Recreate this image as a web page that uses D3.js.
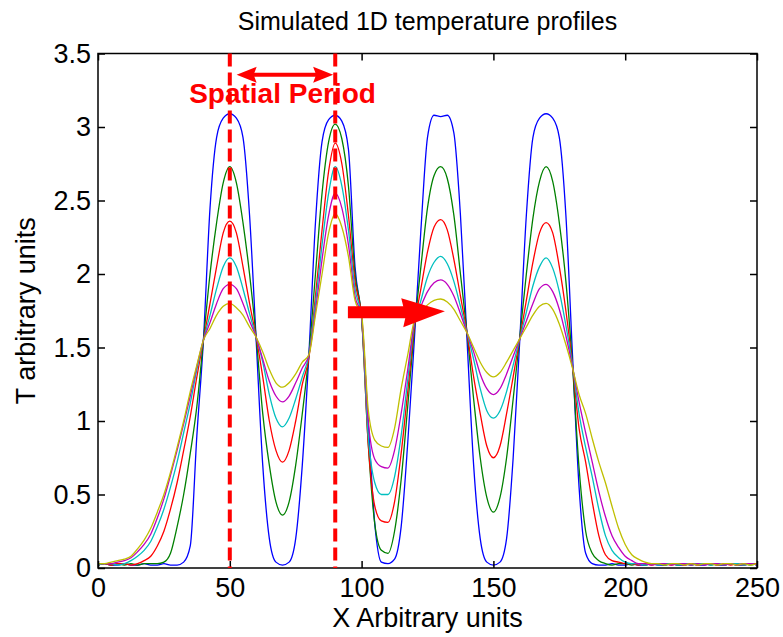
<!DOCTYPE html>
<html><head><meta charset="utf-8">
<script src="https://cdn.jsdelivr.net/npm/d3@7"></script>
<style>
html,body{margin:0;padding:0;background:#fff;}
text{font-family:"Liberation Sans",Arial,Helvetica,sans-serif;}
</style></head>
<body><svg id="chart" width="783" height="637"></svg>
<script>
// ---- data ----
const title = "Simulated 1D temperature profiles";
const xLabel = "X Arbitrary units";
const yLabel = "T arbitrary units";
const xTicks = [0, 50, 100, 150, 200, 250];
const yTicks = [0, 0.5, 1, 1.5, 2, 2.5, 3, 3.5];
const xTickLabels = ["0", "50", "100", "150", "200", "250"];
const yTickLabels = ["0", "0.5", "1", "1.5", "2", "2.5", "3", "3.5"];
const xs = [0,2.5,5,7.5,10,12.5,15,17.5,20,22.5,25,27.5,30,32.5,35,37.5,40,42.5,45,47.5,
 50,52.5,55,57.5,60,62.5,65,67.5,70,72.5,75,77.5,80,82.5,85,87.5,90,92.5,95,97.5,
 100,102.5,105,107.5,110,112.5,115,117.5,120,122.5,125,127.5,130,132.5,135,137.5,140,142.5,145,147.5,
 150,152.5,155,157.5,160,162.5,165,167.5,170,172.5,175,177.5,180,182.5,185,187.5,190,192.5,195,197.5,
 200,202.5,205,207.5,210,212.5,215,217.5,220,222.5,225,227.5,230,232.5,235,237.5,240,242.5,245,247.5,250];
const blue = [0.02,0.03,0.02,0.02,0.03,0.02,0.02,0.03,0.02,0.02,0.03,0.02,0.02,
 0.04,0.15,0.9,1.55,2.45,2.93,3.06,3.09,
 3.06,2.93,2.4,1.55,0.7,0.2,0.04,0.02,
 0.04,0.2,0.7,1.45,2.35,2.9,3.05,3.08,
 3.04,2.85,2.05,1.7,1.0,0.3,0.04,0.03,
 0.06,0.28,0.85,1.55,2.3,2.93,3.08,3.07,
 3.08,2.96,2.4,1.55,0.7,0.2,0.04,0.02,
 0.04,0.2,0.75,1.55,2.4,2.93,3.06,3.09,
 3.06,2.93,2.4,1.45,0.55,0.1,0.03,0.02,
 0.02,0.03,0.02,0.02,0.03,0.02,0.02,0.03,0.02,0.02,0.03,0.02,0.02,0.03,0.02,0.02,0.03,0.02,0.02,0.03,0.02,0.02,0.03,0.02];
const green = [0.02,0.03,0.02,0.03,0.02,0.03,0.02,0.03,0.03,0.03,
 0.04,0.1,0.28,0.5,0.78,1.1,1.55,2.0,2.35,2.62,
 2.73,2.62,2.35,2.0,1.57,1.05,0.7,0.45,0.36,0.45,
 0.7,1.05,1.45,2.0,2.55,2.9,3.02,2.92,2.6,2.0,
 1.7,0.85,0.3,0.12,0.1,0.25,0.6,1.1,1.62,2.05,
 2.45,2.67,2.73,2.65,2.4,2.0,1.6,1.15,0.75,0.48,
 0.38,0.48,0.75,1.15,1.57,2.0,2.38,2.63,2.73,2.63,
 2.35,1.95,1.38,0.68,0.25,0.1,0.05,0.03,
 0.02,0.03,0.03,0.02,0.03,0.02,0.03,0.03,0.02,0.03,0.02,0.03,0.02,0.03,0.03,0.02,0.03,0.02,0.03,0.02,0.03,0.02,0.03];
const red = [0.02,0.03,0.02,0.03,0.03,0.02,0.03,0.05,0.08,0.15,
 0.25,0.4,0.58,0.8,1.03,1.3,1.55,1.8,2.05,2.28,
 2.36,2.28,2.05,1.8,1.57,1.3,1.0,0.8,0.72,0.8,
 1.0,1.25,1.43,1.85,2.3,2.7,2.89,2.75,2.4,1.95,
 1.7,0.85,0.42,0.32,0.31,0.45,0.78,1.2,1.64,1.9,
 2.15,2.32,2.37,2.3,2.1,1.85,1.6,1.3,1.05,0.83,
 0.75,0.83,1.05,1.3,1.56,1.82,2.08,2.28,2.35,2.28,
 2.05,1.75,1.38,0.95,0.72,0.45,0.22,0.09,0.05,0.04,
 0.03,0.03,0.02,0.03,0.02,0.03,0.03,0.02,0.03,0.02,0.03,0.02,0.03,0.03,0.02,0.03,0.02,0.03,0.02,0.03,0.03];
const cyan = [0.02,0.03,0.03,0.02,0.03,0.05,0.08,0.12,0.18,0.28,
 0.4,0.55,0.72,0.92,1.12,1.35,1.55,1.72,1.9,2.05,
 2.11,2.05,1.9,1.73,1.57,1.4,1.18,1.02,0.96,1.02,
 1.15,1.3,1.45,1.8,2.2,2.55,2.73,2.6,2.3,1.9,
 1.7,0.9,0.58,0.5,0.5,0.62,0.9,1.28,1.66,1.82,
 1.98,2.08,2.12,2.07,1.95,1.78,1.6,1.42,1.22,1.07,
 1.02,1.07,1.2,1.38,1.56,1.74,1.92,2.05,2.11,2.04,
 1.88,1.65,1.38,1.05,0.82,0.62,0.4,0.22,0.12,0.07,
 0.04,0.03,0.03,0.02,0.03,0.02,0.03,0.03,0.02,0.03,0.02,0.03,0.03,0.02,0.03,0.02,0.03,0.03,0.02,0.03,0.02];
const magenta = [0.03,0.03,0.03,0.04,0.05,0.07,0.11,0.16,0.23,0.34,
 0.47,0.63,0.8,0.98,1.17,1.37,1.55,1.67,1.8,1.9,
 1.93,1.9,1.8,1.68,1.57,1.42,1.27,1.17,1.13,1.17,
 1.26,1.36,1.45,1.75,2.1,2.4,2.55,2.45,2.2,1.85,
 1.71,1.0,0.74,0.69,0.68,0.8,1.05,1.35,1.67,1.78,
 1.88,1.94,1.96,1.93,1.85,1.73,1.6,1.47,1.32,1.22,
 1.18,1.22,1.32,1.44,1.56,1.68,1.8,1.9,1.93,1.88,
 1.76,1.58,1.37,1.13,0.92,0.72,0.52,0.35,0.22,0.14,
 0.08,0.05,0.03,0.03,0.02,0.03,0.03,0.02,0.03,0.03,0.02,0.03,0.02,0.03,0.03,0.02,0.03,0.02,0.03,0.03,0.02];
const yellow = [0.03,0.03,0.04,0.05,0.06,0.08,0.13,0.19,0.27,0.38,
 0.5,0.65,0.82,1.0,1.2,1.38,1.55,1.63,1.72,1.78,
 1.8,1.77,1.72,1.64,1.57,1.47,1.35,1.26,1.23,1.26,
 1.32,1.4,1.45,1.72,2.0,2.28,2.41,2.32,2.12,1.82,
 1.72,1.08,0.87,0.83,0.82,0.95,1.22,1.45,1.68,1.74,
 1.79,1.82,1.83,1.81,1.76,1.68,1.6,1.5,1.4,1.33,
 1.3,1.33,1.4,1.48,1.56,1.64,1.72,1.78,1.8,1.76,
 1.66,1.52,1.36,1.18,1.05,0.88,0.72,0.58,0.42,0.27,
 0.16,0.09,0.06,0.04,0.03,0.03,0.02,0.03,0.03,0.02,0.03,0.02,0.03,0.03,0.02,0.03,0.03,0.02,0.03,0.02,0.03];
const seriesNames = ["blue","green","red","cyan","magenta","yellow"];
const seriesValues = [blue, green, red, cyan, magenta, yellow];
const seriesColors = ["#0000ff","#008000","#ff0000","#00bfbf","#bf00bf","#bfbf00"];
const periodLines = [50, 90];
const periodArrow = {x0: 52.6, x1: 89.2, y: 3.355};
const periodText = {label: "Spatial Period", x: 70, y: 3.16};
const trendArrow = {x0: 94.8, xHead: 115.8, x1: 131.6, y: 1.74};

// ---- layout ----
const svg = d3.select("#chart");
const x = d3.scaleLinear().domain([0, 250]).range([98, 757]);
const y = d3.scaleLinear().domain([0, 3.5]).range([568, 53.5]);
const fs = 27;

svg.append("defs").append("clipPath").attr("id","clip")
  .append("rect").attr("x",98).attr("y",53.5).attr("width",659).attr("height",514.5);

// curves
const line = d3.line().x((d,i)=>x(xs[i])).y(d=>y(d)).curve(d3.curveMonotoneX);
const g = svg.append("g").attr("clip-path","url(#clip)");
seriesValues.forEach((vals, k) => {
  g.append("path").datum(vals).attr("d", line)
    .attr("fill","none").attr("stroke", seriesColors[k]).attr("stroke-width",1.3)
    .attr("stroke-linejoin","round");
});

// axes
const tickLen = 7;
const ax = svg.append("g");
ax.append("g").attr("transform",`translate(0,${y(0)})`)
  .call(d3.axisBottom(x).tickValues(xTicks).tickFormat((d,i)=>xTickLabels[i]).tickSizeInner(-tickLen).tickSizeOuter(0).tickPadding(10));
ax.append("g").attr("transform",`translate(${x(0)},0)`)
  .call(d3.axisLeft(y).tickValues(yTicks).tickFormat((d,i)=>yTickLabels[i]).tickSizeInner(-tickLen).tickSizeOuter(0).tickPadding(7));
ax.append("g").attr("transform",`translate(0,${y(3.5)})`)
  .call(d3.axisTop(x).tickValues(xTicks).tickFormat("").tickSizeInner(-tickLen).tickSizeOuter(0));
ax.append("g").attr("transform",`translate(${x(250)},0)`)
  .call(d3.axisRight(y).tickValues(yTicks).tickFormat("").tickSizeInner(-tickLen).tickSizeOuter(0));
ax.selectAll(".domain").remove();
ax.selectAll(".tick line").attr("stroke","#000").attr("stroke-width",1.5);
ax.selectAll(".tick text").attr("font-size",fs).attr("fill","#000")
  .attr("font-family","'Liberation Sans',Arial,sans-serif");
svg.append("rect").attr("x",x(0)).attr("y",y(3.5)).attr("width",x(250)-x(0)).attr("height",y(0)-y(3.5))
  .attr("fill","none").attr("stroke","#000").attr("stroke-width",1.5);

// titles
svg.append("text").attr("x",(x(0)+x(250))/2).attr("y",30).attr("text-anchor","middle")
  .attr("font-size",25).text(title);
svg.append("text").attr("x",(x(0)+x(250))/2).attr("y",627).attr("text-anchor","middle")
  .attr("font-size",fs).text(xLabel);
svg.append("text").attr("transform",`translate(35,${(y(0)+y(3.5))/2}) rotate(-90)`).attr("text-anchor","middle")
  .attr("font-size",fs).text(yLabel);

// annotations
const red0 = "#ff0000";
periodLines.forEach(v => {
  svg.append("line").attr("x1",x(v)).attr("x2",x(v)).attr("y1",y(3.5)).attr("y2",y(0))
    .attr("stroke",red0).attr("stroke-width",4).attr("stroke-dasharray","13,6");
});
const ay = y(periodArrow.y), ax0 = x(periodArrow.x0), ax1 = x(periodArrow.x1);
svg.append("line").attr("x1",ax0+15).attr("x2",ax1-15).attr("y1",ay).attr("y2",ay)
  .attr("stroke",red0).attr("stroke-width",4);
svg.append("path").attr("d",`M${ax0},${ay} L${ax0+20},${ay-8} L${ax0+17},${ay} L${ax0+20},${ay+8} Z`).attr("fill",red0);
svg.append("path").attr("d",`M${ax1},${ay} L${ax1-20},${ay-8} L${ax1-17},${ay} L${ax1-20},${ay+8} Z`).attr("fill",red0);
svg.append("text").attr("x",x(periodText.x)).attr("y",y(periodText.y)).attr("text-anchor","middle")
  .attr("font-size",28).attr("font-weight","bold").attr("fill",red0).text(periodText.label);

const ty = y(trendArrow.y), t0 = x(trendArrow.x0), th = x(trendArrow.xHead), t1 = x(trendArrow.x1);
svg.append("path").attr("d",
  `M${t0},${ty-6} L${th},${ty-6} L${th-2},${ty-14} L${t1},${ty-1} L${th},${ty+15} L${th+2},${ty+6} L${t0},${ty+6} Z`)
  .attr("fill",red0);
</script></body></html>
